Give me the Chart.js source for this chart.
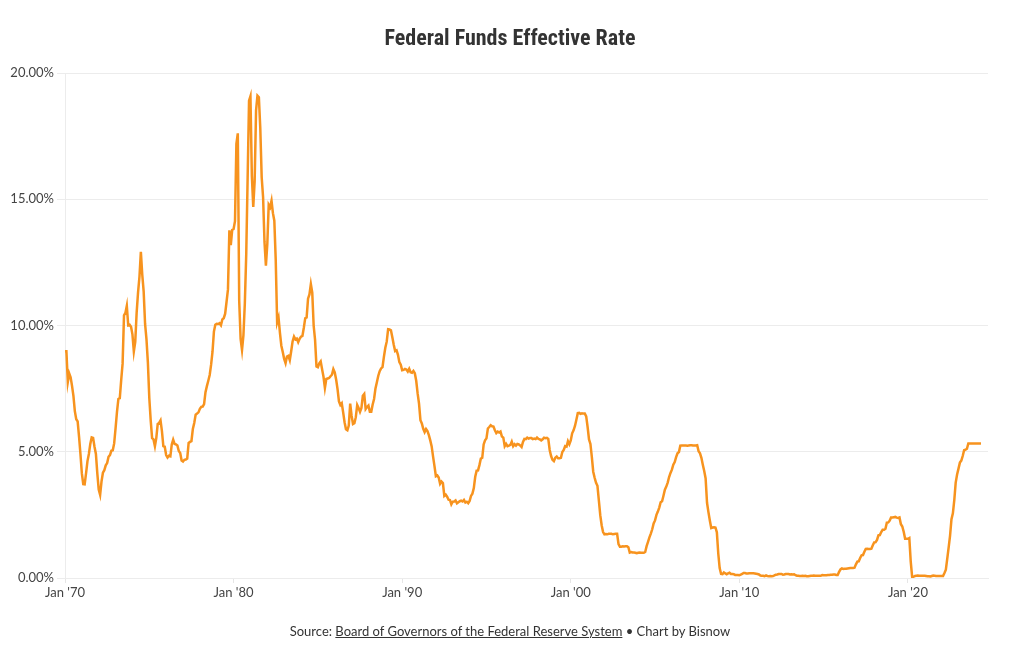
<!DOCTYPE html>
<html>
<head>
<meta charset="utf-8">
<script src="https://cdn.jsdelivr.net/npm/chart.js@4.4.1/dist/chart.umd.min.js"></script>
<style>
  html, body { margin: 0; padding: 0; background: #fff; }
  #wrap { position: relative; width: 1020px; height: 650px; }
  #title { position: absolute; left: 0; width: 1020px; top: 23px; text-align: center;
    font-family: 'Roboto Condensed', 'Liberation Sans Narrow', 'DejaVu Sans Condensed', Roboto, sans-serif;
    font-weight: bold; font-size: 22px; color: #333; line-height: 30px; }
  #source { position: absolute; left: 0; width: 1020px; top: 622px; text-align: center;
    font-family: Lato, 'Open Sans', sans-serif; font-size: 13px; color: #333; line-height: 18px; }
  #source u { text-decoration: underline; }
  canvas { position: absolute; left: 0; top: 0; }
</style>
</head>
<body>
<div id="wrap">
  <canvas id="c" width="1020" height="650"></canvas>
  <div id="title">Federal Funds Effective Rate</div>
  <div id="source">Source: <u>Board of Governors of the Federal Reserve System</u> • Chart by Bisnow</div>
</div>
<script>
// Monthly effective federal funds rate (%), starting January 1970
const startYear = 1970;
const rates1970s = [
  8.98, 8.98, 7.76, 8.10, 7.95, 7.61, 7.21, 6.61, 6.29, 6.20, 5.60, 4.90,
  4.14, 3.72, 3.71, 4.15, 4.63, 4.91, 5.31, 5.57, 5.55, 5.20, 4.91, 4.14,
  3.50, 3.29, 3.83, 4.17, 4.27, 4.46, 4.55, 4.80, 4.87, 5.04, 5.06, 5.33,
  5.94, 6.58, 7.09, 7.12, 7.84, 8.49, 10.40, 10.50, 10.78, 10.01, 10.03, 9.95,
  9.65, 8.97, 9.35, 10.51, 11.31, 11.93, 12.92, 12.01, 11.34, 10.06, 9.45, 8.53,
  7.13, 6.24, 5.54, 5.49, 5.22, 5.55, 6.10, 6.14, 6.24, 5.82, 5.22, 5.20,
  4.87, 4.77, 4.84, 4.82, 5.29, 5.48, 5.31, 5.29, 5.25, 5.03, 4.95, 4.65,
  4.61, 4.68, 4.69, 4.73, 5.35, 5.39, 5.42, 5.90, 6.14, 6.47, 6.51, 6.56,
  6.70, 6.78, 6.79, 6.89, 7.36, 7.60, 7.81, 8.04, 8.45, 8.96, 9.76, 10.03,
  10.07, 10.06, 10.09, 10.01, 10.24, 10.29, 10.47, 10.94, 11.43, 13.77, 13.18, 13.78
];
const rates1980s = [
  13.82, 14.13, 17.19, 17.61, 10.98, 9.47, 9.03, 9.61, 10.87, 12.81, 15.85, 18.90,
  19.08, 15.93, 14.70, 15.72, 18.52, 19.10, 19.04, 17.82, 15.87, 15.08, 13.31, 12.37,
  13.22, 14.78, 14.68, 14.94, 14.45, 14.15, 12.59, 10.12, 10.31, 9.71, 9.20, 8.95,
  8.68, 8.51, 8.77, 8.80, 8.63, 8.98, 9.37, 9.56, 9.45, 9.48, 9.34, 9.47,
  9.56, 9.59, 9.91, 10.29, 10.32, 11.06, 11.23, 11.64, 11.30, 9.99, 9.43, 8.38,
  8.35, 8.50, 8.58, 8.27, 7.97, 7.53, 7.88, 7.90, 7.92, 7.99, 8.05, 8.27,
  8.14, 7.86, 7.48, 6.99, 6.85, 6.92, 6.56, 6.17, 5.89, 5.85, 6.04, 6.91,
  6.43, 6.10, 6.13, 6.37, 6.85, 6.73, 6.58, 6.73, 7.22, 7.29, 6.69, 6.77,
  6.83, 6.58, 6.58, 6.87, 7.09, 7.51, 7.75, 8.01, 8.19, 8.30, 8.35, 8.76,
  9.12, 9.36, 9.85, 9.84, 9.81, 9.53, 9.24, 8.99, 9.02, 8.84, 8.55, 8.45
];
const rates1990s = [
  8.23, 8.24, 8.28, 8.26, 8.18, 8.29, 8.15, 8.13, 8.20, 8.11, 7.81, 7.31,
  6.91, 6.25, 6.12, 5.91, 5.78, 5.90, 5.82, 5.66, 5.45, 5.21, 4.81, 4.43,
  4.03, 4.06, 3.98, 3.73, 3.82, 3.76, 3.25, 3.30, 3.22, 3.10, 3.09, 2.92,
  3.02, 3.03, 3.07, 2.96, 3.00, 3.04, 3.06, 3.03, 3.09, 2.99, 3.02, 2.96,
  3.05, 3.25, 3.34, 3.56, 4.01, 4.25, 4.26, 4.47, 4.73, 4.76, 5.29, 5.45,
  5.53, 5.92, 5.98, 6.05, 6.01, 6.00, 5.85, 5.74, 5.80, 5.76, 5.80, 5.60,
  5.56, 5.22, 5.31, 5.22, 5.24, 5.27, 5.40, 5.22, 5.30, 5.24, 5.31, 5.29,
  5.25, 5.19, 5.39, 5.51, 5.50, 5.56, 5.52, 5.54, 5.54, 5.50, 5.52, 5.50,
  5.56, 5.51, 5.49, 5.45, 5.49, 5.56, 5.54, 5.55, 5.51, 5.07, 4.83, 4.68,
  4.63, 4.76, 4.81, 4.74, 4.74, 4.76, 4.99, 5.07, 5.22, 5.20, 5.42, 5.30
];
const rates2000s = [
  5.45, 5.73, 5.85, 6.02, 6.27, 6.53, 6.54, 6.50, 6.52, 6.51, 6.51, 6.40,
  5.98, 5.49, 5.31, 4.80, 4.21, 3.97, 3.77, 3.65, 3.07, 2.49, 2.09, 1.82,
  1.73, 1.74, 1.73, 1.75, 1.75, 1.75, 1.73, 1.74, 1.75, 1.75, 1.34, 1.24,
  1.24, 1.26, 1.25, 1.26, 1.26, 1.22, 1.01, 1.03, 1.01, 1.01, 1.00, 0.98,
  1.00, 1.01, 1.00, 1.00, 1.00, 1.03, 1.26, 1.43, 1.61, 1.76, 1.93, 2.16,
  2.28, 2.50, 2.63, 2.79, 3.00, 3.04, 3.26, 3.50, 3.62, 3.78, 4.00, 4.16,
  4.29, 4.49, 4.59, 4.79, 4.94, 4.99, 5.24, 5.25, 5.25, 5.25, 5.25, 5.24,
  5.25, 5.26, 5.26, 5.25, 5.25, 5.25, 5.26, 5.02, 4.94, 4.76, 4.49, 4.24,
  3.94, 2.98, 2.61, 2.28, 1.98, 2.00, 2.01, 2.00, 1.81, 0.97, 0.39, 0.16,
  0.15, 0.22, 0.18, 0.15, 0.18, 0.21, 0.16, 0.16, 0.15, 0.12, 0.12, 0.12
];
const rates2010s = [
  0.11, 0.13, 0.16, 0.20, 0.20, 0.18, 0.18, 0.19, 0.19, 0.19, 0.19, 0.18,
  0.17, 0.16, 0.14, 0.10, 0.09, 0.09, 0.07, 0.10, 0.08, 0.07, 0.08, 0.07,
  0.08, 0.10, 0.13, 0.14, 0.16, 0.16, 0.16, 0.13, 0.14, 0.16, 0.16, 0.16,
  0.14, 0.15, 0.14, 0.15, 0.11, 0.09, 0.09, 0.08, 0.08, 0.09, 0.08, 0.09,
  0.07, 0.07, 0.08, 0.09, 0.09, 0.10, 0.09, 0.09, 0.09, 0.09, 0.09, 0.12,
  0.11, 0.11, 0.11, 0.12, 0.12, 0.13, 0.13, 0.14, 0.14, 0.12, 0.12, 0.24,
  0.34, 0.38, 0.36, 0.37, 0.37, 0.38, 0.39, 0.40, 0.40, 0.40, 0.41, 0.54,
  0.65, 0.66, 0.79, 0.90, 0.91, 1.04, 1.15, 1.16, 1.15, 1.15, 1.16, 1.30,
  1.41, 1.42, 1.51, 1.69, 1.70, 1.82, 1.91, 1.91, 1.95, 2.19, 2.20, 2.27,
  2.40, 2.40, 2.41, 2.42, 2.39, 2.38, 2.40, 2.13, 2.04, 1.83, 1.55, 1.55
];
const rates2020s = [
  1.55, 1.58, 0.65, 0.05, 0.05, 0.08, 0.09, 0.10, 0.09, 0.09, 0.09, 0.09,
  0.09, 0.08, 0.07, 0.07, 0.06, 0.08, 0.10, 0.09, 0.08, 0.08, 0.08, 0.08,
  0.08, 0.08, 0.20, 0.33, 0.77, 1.21, 1.68, 2.33, 2.56, 3.08, 3.78, 4.10,
  4.33, 4.57, 4.65, 4.83, 5.06, 5.08, 5.12, 5.33, 5.33, 5.33, 5.33, 5.33,
  5.33, 5.33, 5.33, 5.33, 5.33
];
const xTickLabels = ["Jan '70", "Jan '80", "Jan '90", "Jan '00", "Jan '10", "Jan '20"];
const xTickMonths = [0, 120, 240, 360, 480, 600];
const yTickValues = [0, 5, 10, 15, 20];
const xMaxMonth = 657;

const allRates = [].concat(rates1970s, rates1980s, rates1990s, rates2000s, rates2010s, rates2020s);
const points = allRates.map((v, i) => ({ x: i, y: v }));

const tickFont = { family: 'Lato, "Open Sans", sans-serif', size: 13 };
const gridColor = '#ececec';

new Chart(document.getElementById('c'), {
  type: 'line',
  data: {
    datasets: [{
      data: points,
      borderColor: '#F7931E',
      borderWidth: 2.5,
      pointRadius: 0,
      tension: 0,
      fill: false
    }]
  },
  options: {
    responsive: false,
    animation: false,
    layout: { padding: { top: 73, right: 32, bottom: 42, left: 0 } },
    plugins: { legend: { display: false }, tooltip: { enabled: false }, title: { display: false } },
    scales: {
      x: {
        type: 'linear',
        min: 0,
        max: xMaxMonth,
        grid: { display: true, drawOnChartArea: false, drawTicks: true, tickLength: 5, color: '#e6e6e6' },
        border: { display: true, color: gridColor },
        afterBuildTicks: (s) => { s.ticks = xTickMonths.map(v => ({ value: v })); },
        afterFit: (s) => { s.height = 30; },
        ticks: {
          font: tickFont,
          color: '#444',
          padding: 2,
          maxRotation: 0,
          autoSkip: false,
          callback: (v) => { const k = xTickMonths.indexOf(v); return k >= 0 ? xTickLabels[k] : ''; }
        }
      },
      y: {
        min: 0,
        max: 20,
        afterBuildTicks: (s) => { s.ticks = yTickValues.map(v => ({ value: v })); },
        afterFit: (s) => { s.width = 65; },
        grid: { color: gridColor, tickLength: 8, lineWidth: 1 },
        border: { display: true, color: gridColor },
        ticks: {
          font: tickFont,
          color: '#444',
          padding: 3,
          callback: (v) => v.toFixed(2) + '%'
        }
      }
    }
  }
});
</script>
</body>
</html>
